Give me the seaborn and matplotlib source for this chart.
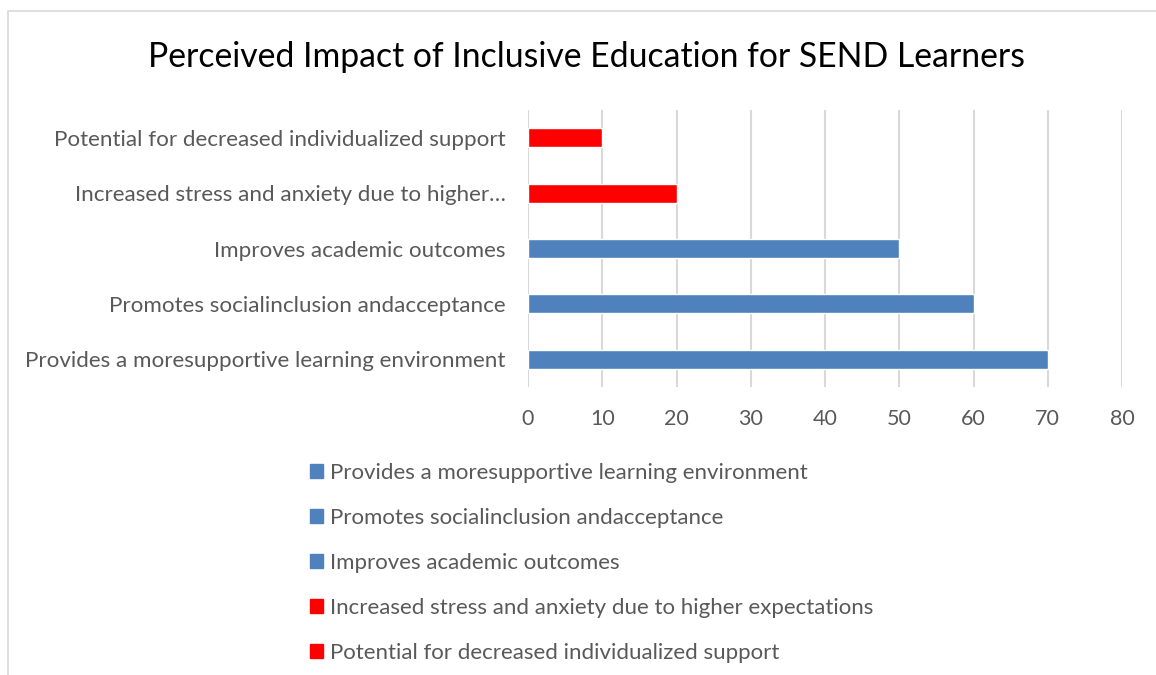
import matplotlib.pyplot as plt
import matplotlib.patches as mpatches
import pandas as pd
import seaborn as sns

# Data (Excel order: first category drawn at the bottom)
categories = ["Provides a moresupportive learning environment",
              "Promotes socialinclusion andacceptance",
              "Improves academic outcomes",
              "Increased stress and anxiety due to higher expectations",
              "Potential for decreased individualized support"]
axis_labels = ["Provides a moresupportive learning environment",
               "Promotes socialinclusion andacceptance",
               "Improves academic outcomes",
               "Increased stress and anxiety due to higher\u2026",
               "Potential for decreased individualized support"]
values = [70, 60, 50, 20, 10]
bar_colors = ["#4F81BD", "#4F81BD", "#4F81BD", "#FF0000", "#FF0000"]

df = pd.DataFrame({"category": categories, "value": values})

sns.set_style("white")
plt.rcParams['font.family'] = ['Lato', 'DejaVu Sans']

fig = plt.figure(figsize=(11.56, 6.75), dpi=100)
ax = fig.add_axes([528 / 1156, 1 - 387 / 675, (1122 - 528) / 1156, 277 / 675])

palette = dict(zip(categories, bar_colors))
sns.barplot(data=df, y="category", x="value", hue="category", order=categories[::-1],
            palette=palette, width=0.34, dodge=False, legend=False, ax=ax, saturation=1)

ax.set_xlim(0, 80)
ax.set_xticks(range(0, 81, 10))
ax.set_yticks(range(5))
ax.set_yticklabels(axis_labels[::-1])
ax.grid(axis="x", color="#D9D9D9", linewidth=1.5)
ax.set_axisbelow(True)
for s in ax.spines.values():
    s.set_visible(False)
ax.tick_params(axis="x", colors="#595959", labelsize=15.5, length=0, pad=16)
ax.tick_params(axis="y", colors="#595959", labelsize=16.1, length=0, pad=16)
ax.set_xlabel("")
ax.set_ylabel("")

fig.text(586 / 1156, 1 - 57 / 675, "Perceived Impact of Inclusive Education for SEND Learners",
         ha="center", va="center", fontsize=24.3, color="black")

handles = [mpatches.Patch(color=c, label=l) for c, l in zip(bar_colors, categories)]
fig.legend(handles=handles, loc="upper left", bbox_to_anchor=(290 / 1156, 1 - 443 / 675),
           frameon=False, fontsize=16, labelcolor="#595959", handlelength=0.6,
           handleheight=0.6, handletextpad=0.32, labelspacing=1.12)

# chart border
fig.add_artist(mpatches.Rectangle((8 / 1156, -0.01), 1.0, 1 - 11 / 675 + 0.01,
                                  transform=fig.transFigure, fill=False,
                                  edgecolor="#D9D9D9", linewidth=1.2))

fig.savefig("out.png", dpi=100)
